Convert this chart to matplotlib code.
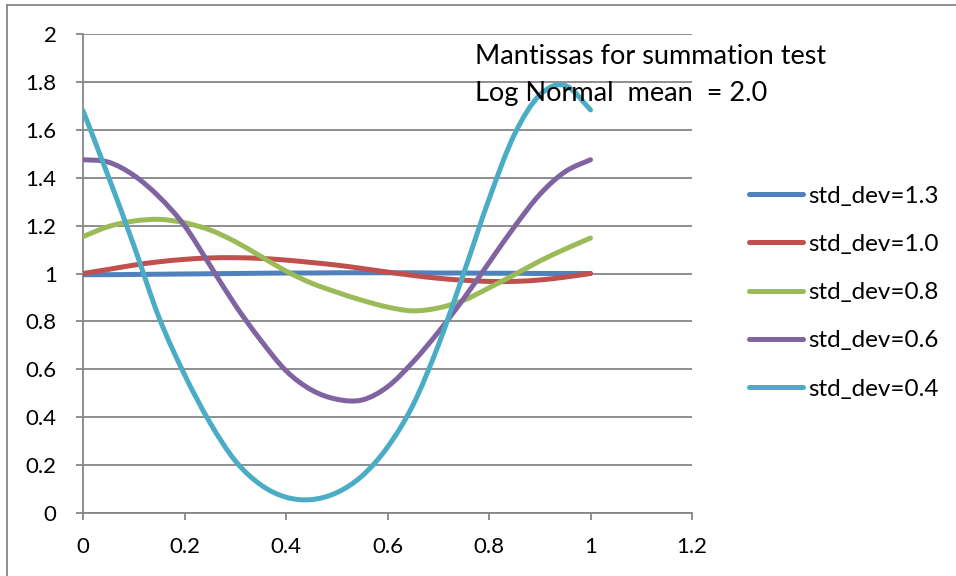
import numpy as np
import matplotlib.pyplot as plt
from matplotlib.path import Path
from matplotlib.patches import PathPatch
from matplotlib.lines import Line2D

# mantissa positions (0..1, step 0.05)
x = [0.00, 0.05, 0.10, 0.15, 0.20, 0.25, 0.30, 0.35, 0.40, 0.45, 0.50,
     0.55, 0.60, 0.65, 0.70, 0.75, 0.80, 0.85, 0.90, 0.95, 1.00]

sd_13 = [0.995, 0.995, 0.996, 0.997, 0.998, 0.999, 1.000, 1.001, 1.002, 1.002, 1.003,
         1.003, 1.003, 1.003, 1.002, 1.002, 1.001, 1.001, 1.000, 1.000, 1.000]
sd_10 = [1.000, 1.017, 1.035, 1.049, 1.059, 1.065, 1.066, 1.063, 1.056, 1.046, 1.035,
         1.021, 1.006, 0.992, 0.980, 0.972, 0.967, 0.967, 0.973, 0.985, 1.000]
sd_08 = [1.154, 1.196, 1.219, 1.226, 1.212, 1.182, 1.133, 1.072, 1.010, 0.960, 0.922,
         0.888, 0.860, 0.844, 0.856, 0.888, 0.940, 0.995, 1.052, 1.102, 1.148]
sd_06 = [1.475, 1.465, 1.410, 1.320, 1.200, 1.035, 0.868, 0.722, 0.594, 0.514, 0.475,
         0.472, 0.527, 0.630, 0.755, 0.895, 1.045, 1.195, 1.330, 1.425, 1.475]
sd_04 = [1.680, 1.405, 1.118, 0.815, 0.578, 0.378, 0.218, 0.118, 0.066, 0.056, 0.085,
         0.155, 0.275, 0.450, 0.700, 1.000, 1.310, 1.580, 1.745, 1.785, 1.683]

labels = ['std_dev=1.3', 'std_dev=1.0', 'std_dev=0.8', 'std_dev=0.6', 'std_dev=0.4']
series = [sd_13, sd_10, sd_08, sd_06, sd_04]
colors = ['#4F81BD', '#C0504D', '#9BBB59', '#8064A2', '#4BACC6']

FONT = 'Lato'
GRID = '#868686'


def smooth_path(xs, ys, tension=1 / 6):
    """Cubic Bezier path through the points (Catmull-Rom style smoothing)."""
    pts = np.column_stack([xs, ys])
    n = len(pts)
    verts = [pts[0]]
    codes = [Path.MOVETO]
    for i in range(n - 1):
        p0 = pts[i - 1] if i > 0 else pts[i]
        p1, p2 = pts[i], pts[i + 1]
        p3 = pts[i + 2] if i + 2 < n else pts[i + 1]
        c1 = p1 + (p2 - p0) * tension
        c2 = p2 - (p3 - p1) * tension
        verts += [c1, c2, p2]
        codes += [Path.CURVE4] * 3
    return Path(verts, codes)


fig = plt.figure(figsize=(9.56, 5.76), dpi=100)
ax = fig.add_axes([83 / 956, 63 / 576, (692 - 83) / 956, (513 - 34) / 576])

for ys, c in zip(series, colors):
    ax.add_patch(PathPatch(smooth_path(x, ys), fill=False, edgecolor=c,
                           lw=3.6, capstyle='round', joinstyle='round', zorder=3))

ax.set_xlim(0, 1.2)
ax.set_ylim(0, 2)
ax.set_xticks(np.arange(0, 1.21, 0.2))
ax.set_yticks(np.arange(0, 2.01, 0.2))
ax.set_xticklabels(['0', '0.2', '0.4', '0.6', '0.8', '1', '1.2'])
ax.set_yticklabels(['0', '0.2', '0.4', '0.6', '0.8', '1', '1.2', '1.4', '1.6', '1.8', '2'])
ax.grid(axis='y', color=GRID, lw=1.3, zorder=0)
ax.set_axisbelow(True)
for s in ('top', 'right'):
    ax.spines[s].set_visible(False)
for s in ('left', 'bottom'):
    ax.spines[s].set_color(GRID)
    ax.spines[s].set_linewidth(1.3)
ax.tick_params(direction='out', length=5, width=1.3, color=GRID,
               labelsize=16, labelcolor='black')
ax.tick_params(axis='y', pad=14)
ax.tick_params(axis='x', pad=12)
for lab in ax.get_xticklabels() + ax.get_yticklabels():
    lab.set_fontfamily(FONT)

fig.text(475 / 956, 1 - 57 / 576, 'Mantissas for summation test', fontsize=19.5,
         family=FONT, va='center', ha='left')
fig.text(475 / 956, 1 - 94 / 576, 'Log Normal  mean  = 2.0', fontsize=19.5,
         family=FONT, va='center', ha='left')

handles = [Line2D([], [], color=c, lw=3.6, solid_capstyle='round') for c in colors]
fig.legend(handles, labels, loc='upper left', bbox_to_anchor=(739 / 956, 1 - 176 / 576),
           frameon=False, prop={'family': FONT, 'size': 17.5}, handlelength=2.25,
           handletextpad=0.2, labelspacing=1.12, borderaxespad=0)

# outer chart border (left and top edges)
fig.add_artist(Line2D([7 / 956, 7 / 956], [0, 1 - 5 / 576], color=GRID, lw=1.3))
fig.add_artist(Line2D([7 / 956, 1], [1 - 5 / 576, 1 - 5 / 576], color=GRID, lw=1.3))

fig.savefig('out.png', dpi=100)
